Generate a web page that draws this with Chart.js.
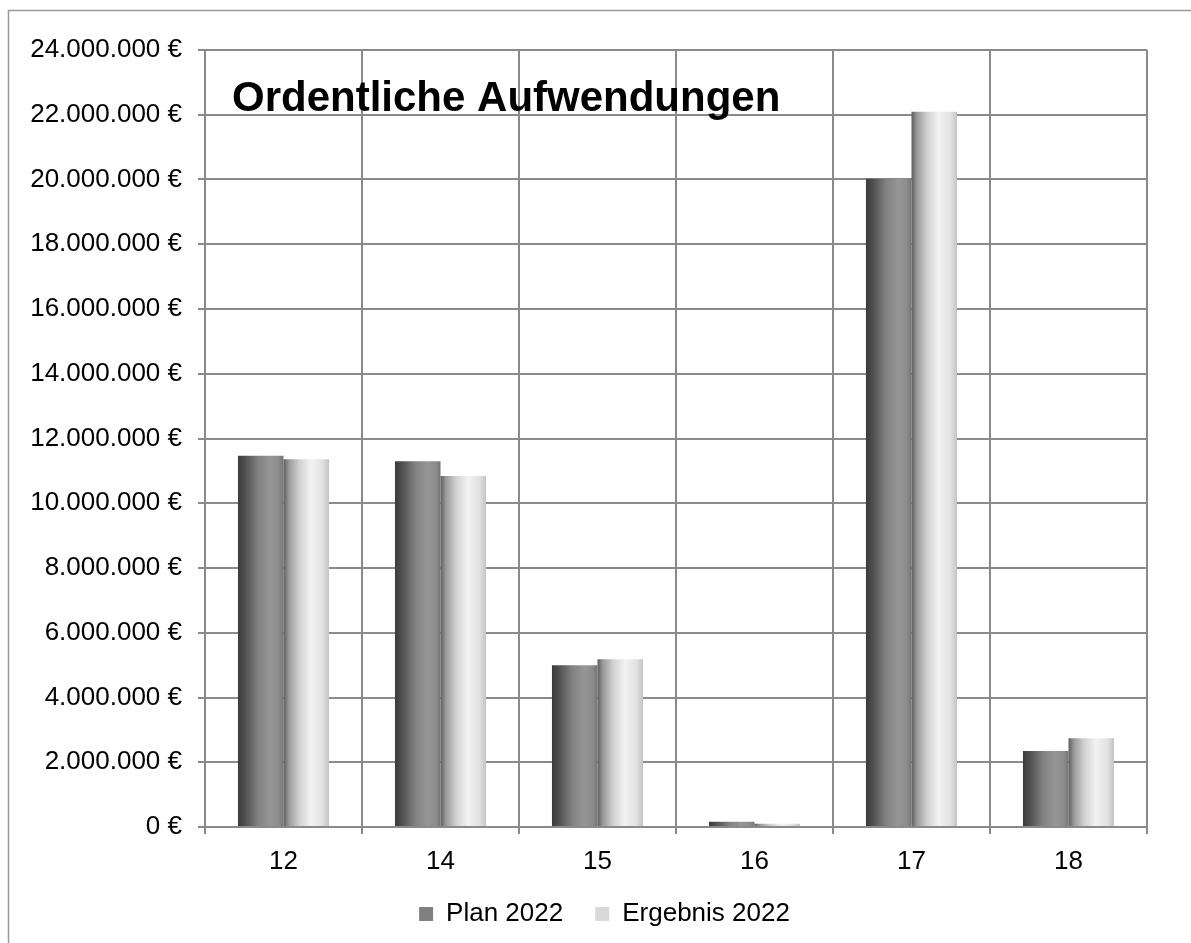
<!DOCTYPE html>
<html>
<head>
<meta charset="utf-8">
<script src="https://cdn.jsdelivr.net/npm/chart.js@4/dist/chart.umd.min.js"></script>
<style>
html,body{margin:0;padding:0;background:#fff;}
#wrap{width:1191px;height:943px;position:relative;}
</style>
</head>
<body>
<div id="wrap"><canvas id="c" width="1191" height="943"></canvas></div>
<script>
const categories = ['12', '14', '15', '16', '17', '18'];
const plan2022 = [11470000, 11300000, 5000000, 160000, 20020000, 2350000];
const ergebnis2022 = [11360000, 10840000, 5180000, 100000, 22090000, 2740000];
const seriesNames = ['Plan 2022', 'Ergebnis 2022'];
const chartTitle = 'Ordentliche Aufwendungen';
const yMin = 0, yMax = 24000000, yStep = 2000000;

const FONT = "'Liberation Sans', Arial, sans-serif";
const GRID = '#8a8a8a';

function fmtEuro(v) {
  const s = Math.round(v).toString().replace(/\B(?=(\d{3})+(?!\d))/g, '.');
  return s + ' €';
}

const gradStops = [
  [[0, '#3a3a3a'], [0.15, '#4f4f4f'], [0.45, '#828282'], [0.7, '#969696'], [0.9, '#8c8c8c'], [1, '#747474']],
  [[0, '#5e5e5e'], [0.12, '#9a9a9a'], [0.35, '#d2d2d2'], [0.6, '#f2f2f2'], [0.85, '#e2e2e2'], [1, '#c4c4c4']]
];

const framePlugin = {
  id: 'frame',
  beforeDraw(chart) {
    const ctx = chart.ctx;
    ctx.save();
    ctx.fillStyle = '#fff';
    ctx.fillRect(0, 0, chart.width, chart.height);
    ctx.strokeStyle = '#9a9a9a';
    ctx.lineWidth = 1.5;
    ctx.beginPath();
    ctx.moveTo(8.5, chart.height + 5);
    ctx.lineTo(8.5, 10.5);
    ctx.lineTo(chart.width + 5, 10.5);
    ctx.stroke();
    ctx.restore();
  }
};

const legendShiftPlugin = {
  id: 'legendShift',
  afterLayout(chart) {
    if (chart.legend) {
      chart.legend.left += 21;
      chart.legend.right += 21;
    }
  }
};

const gradientPlugin = {
  id: 'barGradient',
  beforeDatasetsDraw(chart) {
    const ctx = chart.ctx;
    chart.data.datasets.forEach((ds, di) => {
      const meta = chart.getDatasetMeta(di);
      meta.data.forEach(el => {
        const left = el.x - el.width / 2;
        const right = el.x + el.width / 2;
        const g = ctx.createLinearGradient(left, 0, right, 0);
        gradStops[di].forEach(s => g.addColorStop(s[0], s[1]));
        el.options = Object.assign({}, el.options, { backgroundColor: g });
      });
    });
  }
};

const titlePlugin = {
  id: 'innerTitle',
  afterDraw(chart) {
    const ctx = chart.ctx;
    ctx.save();
    ctx.font = "bold 42px " + FONT;
    ctx.fillStyle = '#000';
    ctx.textAlign = 'left';
    ctx.textBaseline = 'alphabetic';
    ctx.fillText(chartTitle, chart.chartArea.left + 27, 111);
    ctx.restore();
  }
};

new Chart(document.getElementById('c'), {
  type: 'bar',
  data: {
    labels: categories,
    datasets: [
      { label: seriesNames[0], data: plan2022, backgroundColor: '#808080', borderWidth: 0 },
      { label: seriesNames[1], data: ergebnis2022, backgroundColor: '#d9d9d9', borderWidth: 0 }
    ]
  },
  plugins: [framePlugin, legendShiftPlugin, gradientPlugin, titlePlugin],
  options: {
    responsive: false,
    animation: false,
    events: [],
    layout: { padding: { left: 20, right: 44, top: 50, bottom: 6 } },
    datasets: { bar: { categoryPercentage: 0.58, barPercentage: 1.0 } },
    scales: {
      x: {
        grid: { color: GRID, lineWidth: 2, tickLength: 7, tickColor: GRID, offset: true },
        border: { color: GRID, width: 2 },
        ticks: { color: '#000', font: { family: FONT, size: 26 }, padding: 12, maxRotation: 0 },
        afterFit(scale) { scale.height = 42; }
      },
      y: {
        min: yMin, max: yMax,
        grid: { color: GRID, lineWidth: 2, tickLength: 7, tickColor: GRID },
        border: { color: GRID, width: 2 },
        ticks: { stepSize: yStep, color: '#000', font: { family: FONT, size: 26 }, padding: 16,
          callback: (v) => fmtEuro(v) },
        afterFit(scale) { scale.width = 185; }
      }
    },
    plugins: {
      title: { display: false },
      tooltip: { enabled: false },
      legend: {
        position: 'bottom',
        labels: { color: '#000', font: { family: FONT, size: 26 }, boxWidth: 14, boxHeight: 14, padding: 32 }
      }
    }
  }
});
</script>
</body>
</html>
